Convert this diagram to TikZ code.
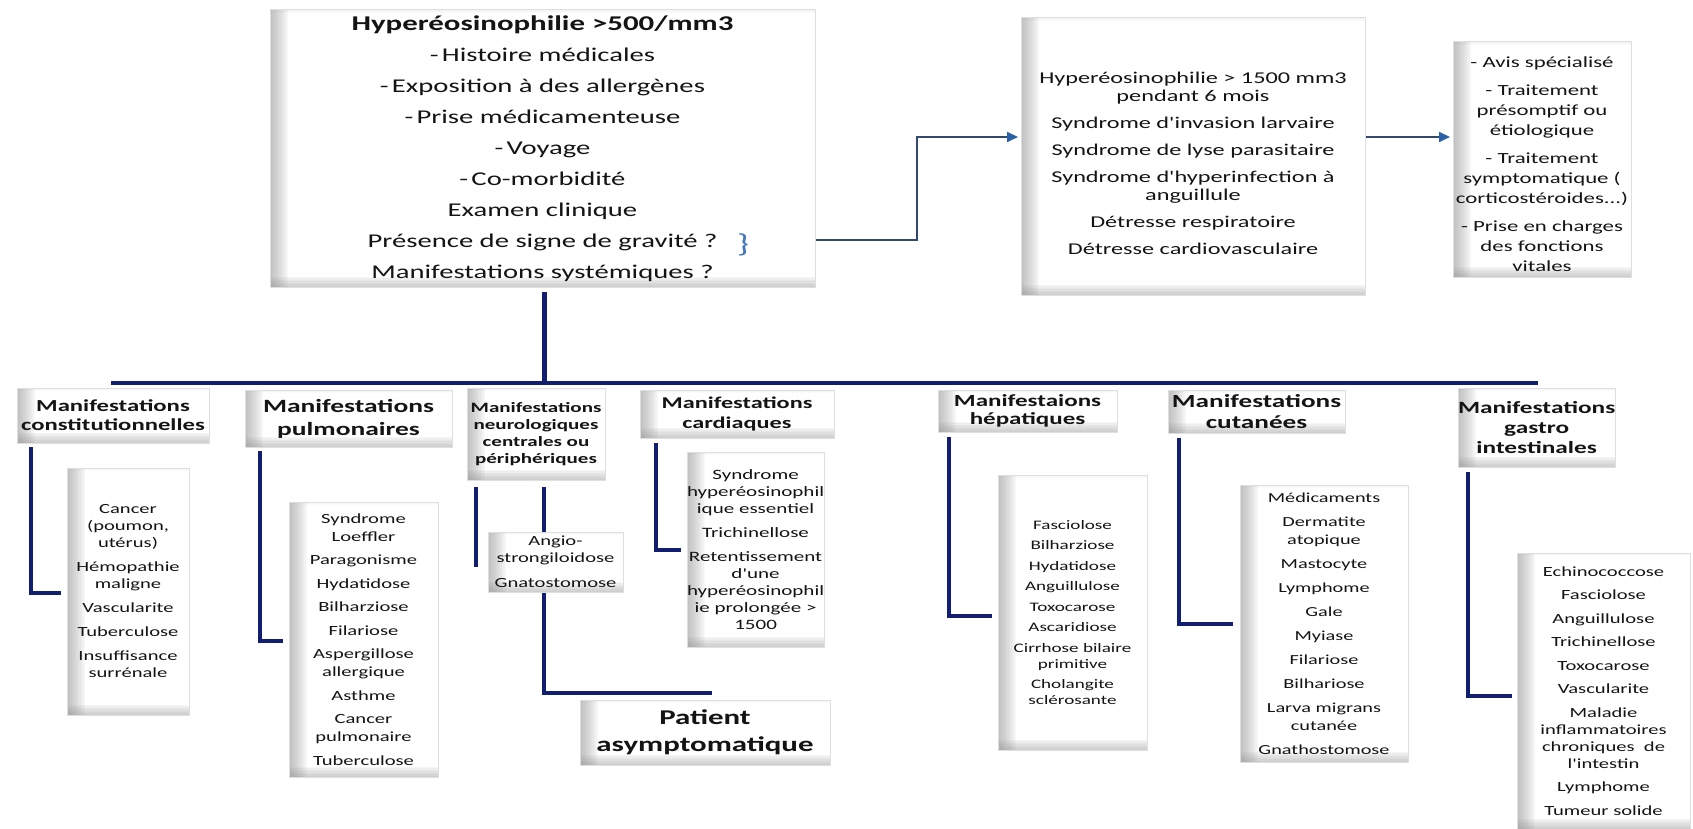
\documentclass[tikz,border=0pt]{standalone}
\usepackage{fontspec}
\setmainfont{Carlito}[FakeStretch=1.47]
\newfontfamily\straight{Carlito}[FakeStretch=1.47]
\newcommand{\ap}{{\straight'}}
\usetikzlibrary{arrows.meta}
\pgfdeclarelayer{background}
\pgfsetlayers{background,main}
\definecolor{navy}{RGB}{18,30,112}
\definecolor{arrowc}{RGB}{52,72,110}
\definecolor{arrowtip}{RGB}{41,98,168}
\definecolor{txt}{RGB}{20,20,20}
\definecolor{bracec}{RGB}{70,120,190}
\begin{document}
\begin{tikzpicture}[x=1pt,y=-1pt,
  bevel/.style={draw=gray!25, line width=1pt, fill=white, inner sep=0pt, outer sep=0pt,
    anchor=north west, align=center, text=txt,
    path picture={
      \foreach \w in {1.5,3,...,18}
        \fill[black!45, opacity=0.055]
          (path picture bounding box.south west) rectangle ([xshift=\w pt]path picture bounding box.north west);
      \foreach \h in {1.5,3,...,10.5}
        \fill[black!45, opacity=0.07]
          (path picture bounding box.south west) rectangle ([yshift=\h pt]path picture bounding box.south east);
      \foreach \h in {1,2,3}
        \fill[black!30, opacity=0.05]
          (path picture bounding box.north west) rectangle ([yshift=-\h pt]path picture bounding box.north east);
    }},
  conn/.style={draw=navy, line width=4.5pt, line join=miter},
  arr/.style={draw=arrowc, line width=1.8pt, line join=miter, shorten >=3pt,
    -{Triangle[length=11pt,width=10pt,color=arrowtip]}},
]
\useasboundingbox (0,0) rectangle (1693,829);

% ---------- top row ----------
\node[bevel, minimum width=545pt, minimum height=277pt, font=\fontsize{19.5}{31}\selectfont]
  (top) at (270,10)
  {{\fontsize{21}{31}\selectfont\bfseries Hyperéosinophilie >500/mm3}\\
   -\,Histoire médicales\\
   -\,Exposition à des allergènes\\
   -\,Prise médicamenteuse\\
   -\,Voyage\\
   -\,Co-morbidité\\
   Examen clinique\\
   Présence de signe de gravité ?\\
   Manifestations systémiques ?};
\node[text=bracec, font=\fontsize{26}{28}\selectfont, inner sep=0pt] (brace) at (743,245) {\}};

\node[bevel, minimum width=344pt, minimum height=277pt, font=\fontsize{16.5}{18}\selectfont]
  (grav) at (1021,18)
  {\rule{0pt}{26pt}Hyperéosinophilie > 1500 mm3\\pendant 6 mois\\[9pt]
   Syndrome d\ap invasion larvaire\\[9pt]
   Syndrome de lyse parasitaire\\[9pt]
   Syndrome d\ap hyperinfection à\\anguillule\\[9pt]
   Détresse respiratoire\\[9pt]
   Détresse cardiovasculaire};

\node[bevel, minimum width=178pt, minimum height=235pt, font=\fontsize{15.5}{20}\selectfont]
  (ttt) at (1453,42)
  {\rule{0pt}{20pt}- Avis spécialisé\\[8pt]
   - Traitement\\présomptif ou\\étiologique\\[8pt]
   - Traitement\\symptomatique (\\corticostéroides...)\\[8pt]
   - Prise en charges\\des fonctions\\vitales};

% ---------- headers ----------
\node[bevel, minimum width=192pt, minimum height=55pt, font=\fontsize{16.8}{19}\selectfont\bfseries]
  (h1) at (17,388) {Manifestations\\constitutionnelles};
\node[bevel, minimum width=207pt, minimum height=57pt, font=\fontsize{18.7}{23}\selectfont\bfseries]
  (h2) at (245,390) {Manifestations\\pulmonaires};
\node[bevel, minimum width=138pt, minimum height=92pt, font=\fontsize{14.3}{17}\selectfont\bfseries]
  (h3) at (467,388) {Manifestations\\neurologiques\\centrales ou\\périphériques};
\node[bevel, minimum width=194pt, minimum height=48pt, font=\fontsize{16.5}{20}\selectfont\bfseries]
  (h4) at (640,390) {Manifestations\\cardiaques};
\node[bevel, minimum width=179pt, minimum height=42pt, font=\fontsize{17}{18}\selectfont\bfseries]
  (h5) at (938,390) {Manifestaions\\hépatiques};
\node[bevel, minimum width=177pt, minimum height=43pt, font=\fontsize{18.5}{21}\selectfont\bfseries]
  (h6) at (1168,390) {Manifestations\\cutanées};
\node[bevel, minimum width=157pt, minimum height=79pt, font=\fontsize{17.2}{20}\selectfont\bfseries]
  (h7) at (1458,388) {Manifestations\\gastro\\intestinales};

% ---------- content boxes ----------
\node[bevel, minimum width=122pt, minimum height=247pt, font=\fontsize{14}{17}\selectfont]
  (b1) at (67,468)
  {Cancer\\(poumon,\\utérus)\\[7pt]Hémopathie\\maligne\\[7pt]Vascularite\\[7pt]Tuberculose\\[7pt]Insuffisance\\surrénale};
\node[bevel, minimum width=149pt, minimum height=275pt, font=\fontsize{14}{18}\selectfont]
  (b2) at (289,502)
  {Syndrome\\Loeffler\\[5.5pt]Paragonisme\\[5.5pt]Hydatidose\\[5.5pt]Bilharziose\\[5.5pt]Filariose\\[5.5pt]Aspergillose\\allergique\\[5.5pt]Asthme\\[5.5pt]Cancer\\pulmonaire\\[5.5pt]Tuberculose};
\node[bevel, minimum width=135pt, minimum height=60pt, font=\fontsize{14}{17}\selectfont]
  (b3) at (488,532)
  {Angio-\\strongiloidose\\[8pt]Gnatostomose};
\node[bevel, minimum width=250pt, minimum height=65pt, font=\fontsize{21}{27}\selectfont\bfseries]
  (pat) at (580,700)
  {Patient\\asymptomatique};
\node[bevel, minimum width=130pt, minimum height=195pt, font=\fontsize{14.3}{17}\selectfont]
  (b4) at (687,452)
  {Syndrome\\hyperéosinophil\\ique essentiel\\[7pt]Trichinellose\\[7pt]Retentissement\\d\ap une\\hyperéosinophil\\ie prolongée >\\1500};
\node[bevel, minimum width=149pt, minimum height=275pt, font=\fontsize{13}{16}\selectfont]
  (b5) at (998,475)
  {Fasciolose\\[4.5pt]Bilharziose\\[4.5pt]Hydatidose\\[4.5pt]Anguillulose\\[4.5pt]Toxocarose\\[4.5pt]Ascaridiose\\[4.5pt]Cirrhose bilaire\\primitive\\[4.5pt]Cholangite\\sclérosante};
\node[bevel, minimum width=168pt, minimum height=277pt, font=\fontsize{13.8}{18}\selectfont]
  (b6) at (1240,485)
  {Médicaments\\[6pt]Dermatite\\atopique\\[6pt]Mastocyte\\[6pt]Lymphome\\[6pt]Gale\\[6pt]Myiase\\[6pt]Filariose\\[6pt]Bilhariose\\[6pt]Larva migrans\\cutanée\\[6pt]Gnathostomose};
\node[bevel, minimum width=173pt, minimum height=276pt, font=\fontsize{14}{17}\selectfont]
  (b7) at (1517,553)
  {Echinococcose\\[6.5pt]Fasciolose\\[6.5pt]Anguillulose\\[6.5pt]Trichinellose\\[6.5pt]Toxocarose\\[6.5pt]Vascularite\\[6.5pt]Maladie\\inflammatoires\\chroniques~ de\\l\ap intestin\\[6.5pt]Lymphome\\[6.5pt]Tumeur solide};

% ---------- connectors ----------
\coordinate (a1) at (917,240);
\coordinate (a2) at (917,137);
\coordinate (kv) at (544,383);
\coordinate (barL) at (111,383);
\coordinate (barR) at (1538,383);
\coordinate (k1) at (31,593);
\coordinate (k2) at (260,641);
\coordinate (k3a) at (476,567);
\coordinate (k3b) at (544,693);
\coordinate (k3c) at (712,693);
\coordinate (k4) at (656,550);
\coordinate (k5) at (949,616);
\coordinate (k6) at (1179,624);
\coordinate (k7) at (1468,696);

\begin{pgfonlayer}{background}
\fill[white] (0,0) rectangle (1693,829);
\draw[arr] (top.east |- a1) -- (a1) -- (a2) -- (grav.west |- a2);
\draw[arr] (grav.east |- a2) -- (ttt.west |- a2);
\draw[conn, line width=5pt] ([yshift=-5pt]top.south -| kv) -- (kv);
\draw[conn, line width=4pt] (barL) -- (barR);
\draw[conn] ([yshift=-4pt]h1.south -| k1) -- (k1) -- ([xshift=-6pt]b1.west |- k1);
\draw[conn] ([yshift=-4pt]h2.south -| k2) -- (k2) -- ([xshift=-6pt]b2.west |- k2);
\draw[conn] ([yshift=-7pt]h3.south -| k3a) -- (k3a);
\draw[conn] ([yshift=-7pt]h3.south -| k3b) -- (k3b) -- (k3c);
\draw[conn] ([yshift=-5pt]h4.south -| k4) -- (k4) -- ([xshift=-6pt]b4.west |- k4);
\draw[conn] ([yshift=-5pt]h5.south -| k5) -- (k5) -- ([xshift=-6pt]b5.west |- k5);
\draw[conn] ([yshift=-5pt]h6.south -| k6) -- (k6) -- ([xshift=-7pt]b6.west |- k6);
\draw[conn] ([yshift=-5pt]h7.south -| k7) -- (k7) -- ([xshift=-5pt]b7.west |- k7);
\end{pgfonlayer}
\end{tikzpicture}
\end{document}
